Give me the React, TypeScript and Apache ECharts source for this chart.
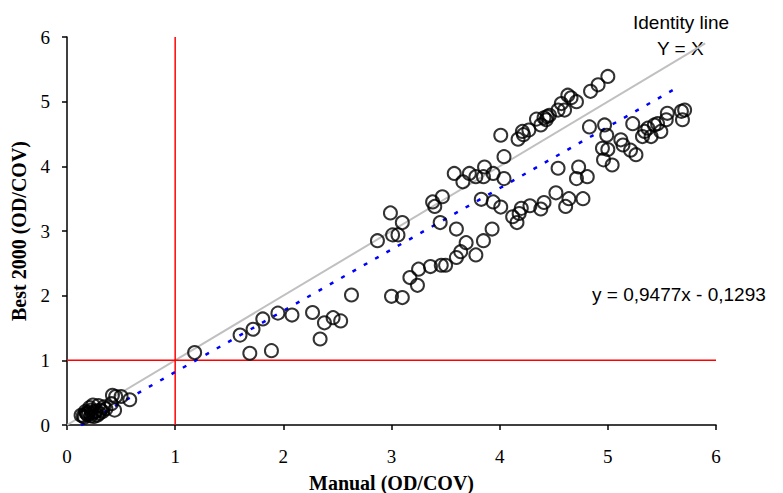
import React, { useEffect, useRef } from "react";
import * as echarts from "echarts";

// Manual (OD/COV) readings
const manualValues: number[] = [
  0.13, 0.18, 0.22, 0.24, 0.28, 0.31, 0.34, 0.42, 0.45, 0.5, 0.58, 0.44, 0.41, 0.25, 0.16, 0.2, 0.27, 0.22,
  0.15, 0.19, 0.23, 0.26, 0.3, 0.21, 0.33, 0.36, 0.29, 0.17,
  1.18, 1.6, 1.72, 1.81, 1.95, 2.08, 1.69, 1.89, 2.27, 2.38, 2.46, 2.53, 2.34, 2.63,
  3.38, 3.4, 3.47, 2.99, 3.1, 2.87, 3.01, 3.06, 3.45, 3.6, 3.83, 3.94, 4.01, 4.12, 4.16, 4.18, 4.2, 4.28, 4.38, 4.41, 4.52,
  3.93, 3.85, 3.69, 3.64, 3.6, 3.78, 3.5, 3.46, 3.36, 3.25, 3.17, 3.24, 3.0, 3.1,
  4.01, 4.17, 4.21, 4.22, 4.27, 4.34, 4.38, 4.43, 4.41, 4.46, 4.54, 4.04, 3.58, 3.66, 3.72, 3.78, 3.86, 3.85, 3.94, 4.04,
  5.0, 4.91, 4.84, 4.63, 4.66, 4.71, 4.57, 4.6, 4.44,
  5.71, 5.68, 5.69, 5.55, 5.54, 5.46, 5.43, 5.37, 5.34, 5.49, 5.4, 5.32, 5.23, 5.12, 5.14, 5.21, 5.26,
  4.97, 4.83, 4.99, 4.95, 5.0, 4.96, 5.04, 4.54, 4.73, 4.71, 4.81, 4.64, 4.77, 4.61
];
// Best 2000 (OD/COV) readings
const bestValues: number[] = [
  0.15, 0.18, 0.23, 0.31, 0.15, 0.23, 0.28, 0.46, 0.44, 0.44, 0.39, 0.23, 0.33, 0.13, 0.12, 0.2, 0.22, 0.14,
  0.14, 0.16, 0.18, 0.2, 0.18, 0.27, 0.21, 0.25, 0.3, 0.21,
  1.12, 1.39, 1.48, 1.64, 1.73, 1.7, 1.11, 1.15, 1.74, 1.58, 1.66, 1.61, 1.33, 2.01,
  3.45, 3.38, 3.53, 3.28, 3.13, 2.85, 2.94, 2.94, 3.13, 3.03, 3.49, 3.45, 3.37, 3.22, 3.13, 3.27, 3.35, 3.39, 3.34, 3.44, 3.59,
  3.03, 2.85, 2.82, 2.68, 2.59, 2.63, 2.47, 2.47, 2.45, 2.41, 2.28, 2.16, 1.99, 1.97,
  4.48, 4.42, 4.54, 4.49, 4.56, 4.73, 4.64, 4.72, 4.75, 4.79, 4.87, 4.15, 3.89, 3.76, 3.89, 3.84, 3.99, 3.84, 3.89, 3.81,
  5.39, 5.26, 5.16, 5.1, 5.06, 5.0, 4.97, 4.87, 4.77,
  4.87, 4.85, 4.72, 4.82, 4.72, 4.66, 4.64, 4.59, 4.54, 4.54, 4.46, 4.46, 4.66, 4.41, 4.33, 4.25, 4.18,
  4.64, 4.61, 4.48, 4.28, 4.26, 4.1, 4.02, 3.97, 3.99, 3.81, 3.84, 3.5, 3.5, 3.38
];

const axisTicks: number[] = [0, 1, 2, 3, 4, 5, 6];
const identityLine: number[][] = [[0, 0], [5.9, 5.9]];
const trendSlope = 0.9477;
const trendIntercept = -0.1293;
const trendRange: number[] = [0.13, 5.65];
const thresholdValue = 1;
const texts = {
  xName: "Manual (OD/COV)",
  yName: "Best 2000 (OD/COV)",
  identity1: "Identity line",
  identity2: "Y = X",
  formula: "y = 0,9477x - 0,1293",
};

export default function App() {
  const ref = useRef<HTMLDivElement>(null);
  useEffect(() => {
    document.body.style.margin = "0";
    if (!ref.current) return;
    const chart = echarts.init(ref.current, null, { renderer: "svg" });
    const points = manualValues.map((x, i) => [x, bestValues[i]]);
    const trend = trendRange.map((x) => [x, trendSlope * x + trendIntercept]);
    const serif = "'Liberation Serif', 'Times New Roman', serif";
    const sans = "'Liberation Sans', Arial, sans-serif";
    const lo = axisTicks[0];
    const hi = axisTicks[axisTicks.length - 1];
    chart.setOption({
      animation: false,
      backgroundColor: "#fff",
      grid: { left: 67, right: 67, top: 37, bottom: 68, outerBoundsMode: "none", containLabel: false },
      xAxis: {
        type: "value",
        min: lo,
        max: hi,
        interval: 1,
        name: texts.xName,
        nameLocation: "middle",
        nameGap: 48,
        nameTextStyle: { fontFamily: serif, fontWeight: "bold", fontSize: 20, color: "#000", verticalAlign: "top" },
        axisLine: { lineStyle: { color: "#000", width: 1.5 } },
        axisTick: { show: true, length: 5, lineStyle: { color: "#000", width: 1.5 } },
        axisLabel: { fontFamily: serif, fontSize: 19, color: "#000", margin: 22 },
        splitLine: { show: false },
      },
      yAxis: {
        type: "value",
        min: lo,
        max: hi,
        interval: 1,
        name: texts.yName,
        nameLocation: "middle",
        nameGap: 38,
        nameTextStyle: { fontFamily: serif, fontWeight: "bold", fontSize: 20, color: "#000" },
        axisLine: { lineStyle: { color: "#000", width: 1.5 } },
        axisTick: { show: true, length: 5, lineStyle: { color: "#000", width: 1.5 } },
        axisLabel: { fontFamily: serif, fontSize: 19, color: "#000", margin: 17 },
        splitLine: { show: false },
      },
      series: [
        {
          type: "line",
          data: identityLine,
          symbol: "none",
          lineStyle: { color: "#c0c0c0", width: 2 },
          silent: true,
          z: 1,
        },
        {
          type: "line",
          data: [[thresholdValue, lo], [thresholdValue, hi]],
          symbol: "none",
          lineStyle: { color: "#ff0000", width: 1.5 },
          silent: true,
          z: 1,
        },
        {
          type: "line",
          data: [[lo, thresholdValue], [hi, thresholdValue]],
          symbol: "none",
          lineStyle: { color: "#ff0000", width: 1.5 },
          silent: true,
          z: 1,
        },
        {
          type: "line",
          data: trend,
          symbol: "none",
          lineStyle: { color: "#0000ff", width: 2.5, type: [4, 9] },
          silent: true,
          z: 2,
        },
        {
          type: "scatter",
          data: points,
          symbol: "circle",
          symbolSize: 13,
          itemStyle: { color: "rgba(0,0,0,0)", borderColor: "#000", borderWidth: 2 },
          z: 3,
        },
      ],
      graphic: [
        { type: "text", x: 633, y: 22, style: { text: texts.identity1, font: `19px ${sans}`, fill: "#000", textVerticalAlign: "middle" } },
        { type: "text", x: 657, y: 48, style: { text: texts.identity2, font: `19px ${sans}`, fill: "#000", textVerticalAlign: "middle" } },
        { type: "text", x: 592, y: 294, style: { text: texts.formula, font: `19px ${sans}`, fill: "#000", textVerticalAlign: "middle" } },
      ],
    });
    return () => chart.dispose();
  }, []);
  return <div ref={ref} style={{ width: 783, height: 493 }} />;
}
